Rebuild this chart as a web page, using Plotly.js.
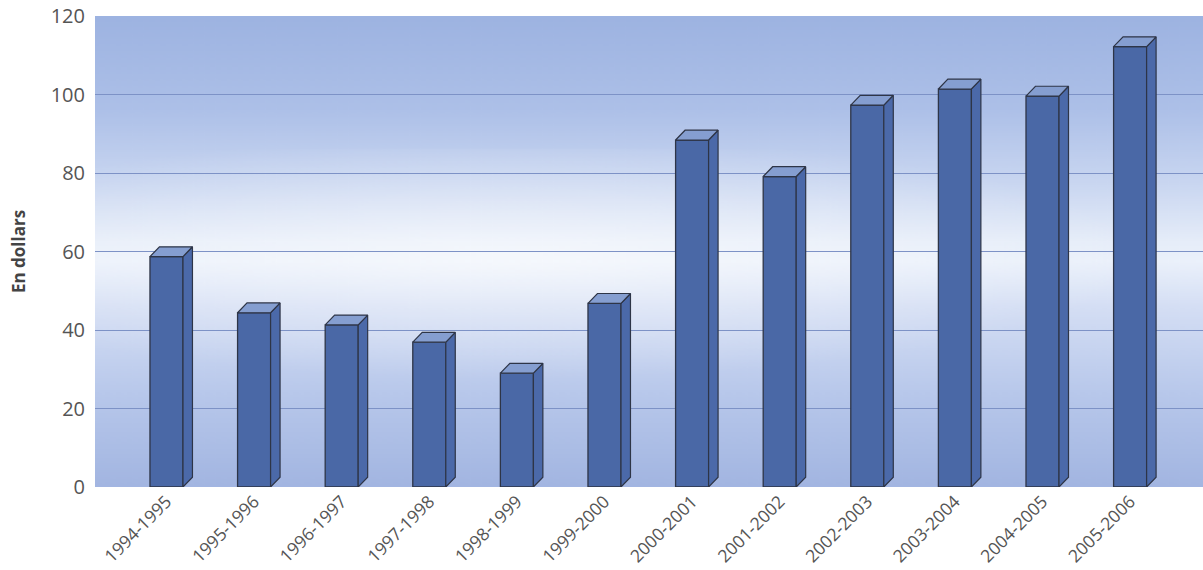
<!DOCTYPE html>
<html>
<head>
<meta charset="utf-8">
<script src="https://cdn.plot.ly/plotly-3.0.1.min.js"></script>
<style>html,body{margin:0;padding:0;background:#fff;}#chart{width:1203px;height:570px;}</style>
</head>
<body>
<div id="chart"></div>
<script>
// ---- data ----
var categories = ["1994-1995","1995-1996","1996-1997","1997-1998","1998-1999","1999-2000",
                  "2000-2001","2001-2002","2002-2003","2003-2004","2004-2005","2005-2006"];
var values = [58.7, 44.4, 41.3, 36.9, 29.0, 46.8, 88.4, 79.1, 97.3, 101.4, 99.6, 112.2];
var yTicks = [0, 20, 40, 60, 80, 100, 120];

// ---- style ----
var X0 = -0.816, X1 = 11.832, Y0 = 0, Y1 = 120;
var BW = 0.377;      // front face width (category units)
var DX = 0.108;      // depth offset x (category units)
var DY = 2.5;        // depth offset y (value units)
var FRONT = '#4a68a6', SIDE = '#4b69a9', TOP = '#859ed0', EDGE = '#2e3547';

// gradient background image
var cv = document.createElement('canvas');
cv.width = 400; cv.height = 400;
var ctx = cv.getContext('2d');
var g = ctx.createLinearGradient(0, 0, 0, 400);
g.addColorStop(0.00, '#9db3e1');
g.addColorStop(0.20, '#adc0e8');
g.addColorStop(0.36, '#cad7f1');
g.addColorStop(0.48, '#e6edf9');
g.addColorStop(0.52, '#ebf1fb');
g.addColorStop(0.62, '#d4def4');
g.addColorStop(0.80, '#b8c8eb');
g.addColorStop(1.00, '#a2b5e1');
ctx.fillStyle = g; ctx.fillRect(0, 0, 400, 400);
var rg = ctx.createRadialGradient(150, 205, 10, 150, 205, 230);
rg.addColorStop(0, 'rgba(255,255,255,0.5)');
rg.addColorStop(1, 'rgba(255,255,255,0)');
ctx.save(); ctx.scale(1, 0.45); ctx.translate(0, 205/0.45 - 205);
ctx.fillStyle = rg; ctx.fillRect(0, 0, 400, 1000); ctx.restore();
var bgURL = cv.toDataURL('image/png');

var xs = categories.map(function(_, i){ return i; });
var traces = [];
traces.push({
  type: 'bar', x: xs, y: values, width: BW,
  marker: {color: FRONT, line: {color: EDGE, width: 1.3}},
  hoverinfo: 'skip'
});
values.forEach(function(v, i){
  var l = i - BW/2, r = i + BW/2;
  traces.push({
    type: 'scatter', mode: 'lines', fill: 'toself', fillcolor: SIDE,
    x: [r, r + DX, r + DX, r, r], y: [0, DY, v + DY, v, 0],
    line: {color: EDGE, width: 1.2}, hoverinfo: 'skip'
  });
  traces.push({
    type: 'scatter', mode: 'lines', fill: 'toself', fillcolor: TOP,
    x: [l, l + DX, r + DX, r, l], y: [v, v + DY, v + DY, v, v],
    line: {color: EDGE, width: 1.2}, hoverinfo: 'skip'
  });
});

var layout = {
  width: 1203, height: 570,
  margin: {l: 95, r: 0, t: 16, b: 83},
  paper_bgcolor: '#ffffff',
  plot_bgcolor: 'rgba(0,0,0,0)',
  showlegend: false,
  hovermode: false,
  font: {family: '"Open Sans", "Noto Sans", sans-serif', color: '#555555'},
  xaxis: {
    range: [X0, X1], tickvals: xs, ticktext: categories,
    tickangle: -45, tickfont: {size: 17.5, color: '#555555'},
    showgrid: false, zeroline: false, showline: false, ticks: '', fixedrange: true
  },
  yaxis: {
    range: [Y0, Y1], tickvals: yTicks, ticktext: yTicks.map(String),
    tickfont: {size: 20, color: '#555555'},
    ticklabelstandoff: 9,
    showgrid: true, gridcolor: '#7d92c6', gridwidth: 1,
    zeroline: false, showline: false, ticks: '', ticklen: 0,
    title: {text: '<b>En dollars</b>', font: {size: 17, color: '#444444'}, standoff: 20},
    fixedrange: true
  },
  images: [{
    source: bgURL, xref: 'x', yref: 'y', x: X0, y: Y1,
    sizex: X1 - X0, sizey: Y1 - Y0, sizing: 'stretch', layer: 'below',
    xanchor: 'left', yanchor: 'top'
  }]
};

Plotly.newPlot('chart', traces, layout, {staticPlot: true, displayModeBar: false});
</script>
</body>
</html>
